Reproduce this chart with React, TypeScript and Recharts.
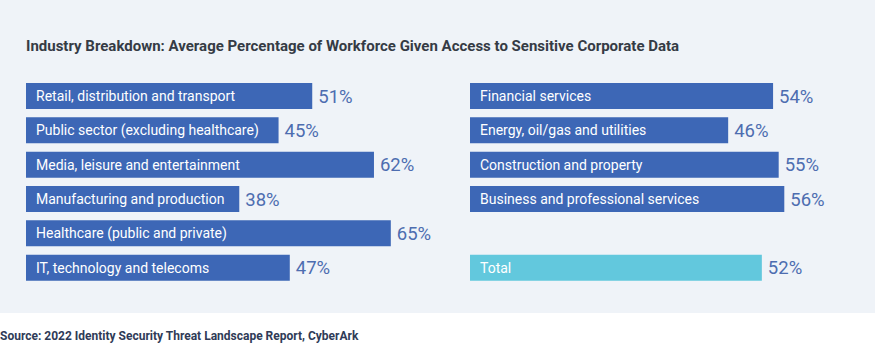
import { BarChart, Bar, XAxis, YAxis, LabelList, Cell } from 'recharts'

const leftCategories = [
  'Retail, distribution and transport',
  'Public sector (excluding healthcare)',
  'Media, leisure and entertainment',
  'Manufacturing and production',
  'Healthcare (public and private)',
  'IT, technology and telecoms',
]
const leftValues = [51, 45, 62, 38, 65, 47]

const rightCategories = [
  'Financial services',
  'Energy, oil/gas and utilities',
  'Construction and property',
  'Business and professional services',
  '',
  'Total',
]
const rightValues = [54, 46, 55, 56, null, 52]

const BLUE = '#3d67b6'
const CYAN = '#62c8dd'
const FONT = 'Roboto, "Open Sans", sans-serif'

const leftData = leftCategories.map((name, i) => ({ name, value: leftValues[i] }))
const rightData = rightCategories.map((name, i) => ({ name, value: rightValues[i] }))

function Panel({ data, left }: { data: { name: string; value: number | null }[]; left: number }) {
  return (
    <div style={{ position: 'absolute', left, top: 79 }}>
      <BarChart
        width={449}
        height={206}
        data={data}
        layout="vertical"
        margin={{ top: 0, right: 0, bottom: 0, left: 0 }}
        barCategoryGap={8}
      >
        <XAxis type="number" domain={[0, 80]} hide />
        <YAxis type="category" dataKey="name" hide />
        <Bar dataKey="value" barSize={26} isAnimationActive={false}>
          {data.map((d) => (
            <Cell key={d.name} fill={d.name === 'Total' ? CYAN : BLUE} />
          ))}
          <LabelList
            dataKey="name"
            position="insideLeft"
            offset={10}
            fill="#ffffff"
            fontSize={14}
            fontFamily={FONT}
          />
          <LabelList
            dataKey="value"
            position="right"
            content={(p: any) => {
              if (p.value == null) return null
              const total = data[p.index]?.name === 'Total'
              return (
                <text
                  x={p.x + p.width + 6}
                  y={p.y + p.height / 2}
                  dy={6.5}
                  fill={total ? '#6ac6dc' : '#4d6db0'}
                  fontSize={18.5}
                  fontFamily={FONT}
                >
                  {`${p.value}%`}
                </text>
              )
            }}
          />
        </Bar>
      </BarChart>
    </div>
  )
}

export default function App() {
  return (
    <div
      style={{
        position: 'absolute',
        left: 0,
        top: 0,
        width: 875,
        height: 344,
        background: '#ffffff',
        fontFamily: FONT,
      }}
    >
      <div style={{ position: 'absolute', left: 0, top: 0, width: 875, height: 313, background: '#eff3f8' }} />
      <div
        style={{
          position: 'absolute',
          left: 26,
          top: 37,
          fontSize: 15,
          fontWeight: 700,
          color: '#353b45',
          whiteSpace: 'nowrap',
        }}
      >
        Industry Breakdown: Average Percentage of Workforce Given Access to Sensitive Corporate Data
      </div>
      <Panel data={leftData} left={26} />
      <Panel data={rightData} left={470} />
      <div
        style={{
          position: 'absolute',
          left: 0,
          top: 329,
          fontSize: 12,
          fontWeight: 700,
          color: '#2f3b57',
          whiteSpace: 'nowrap',
        }}
      >
        Source: 2022 Identity Security Threat Landscape Report, CyberArk
      </div>
    </div>
  )
}
